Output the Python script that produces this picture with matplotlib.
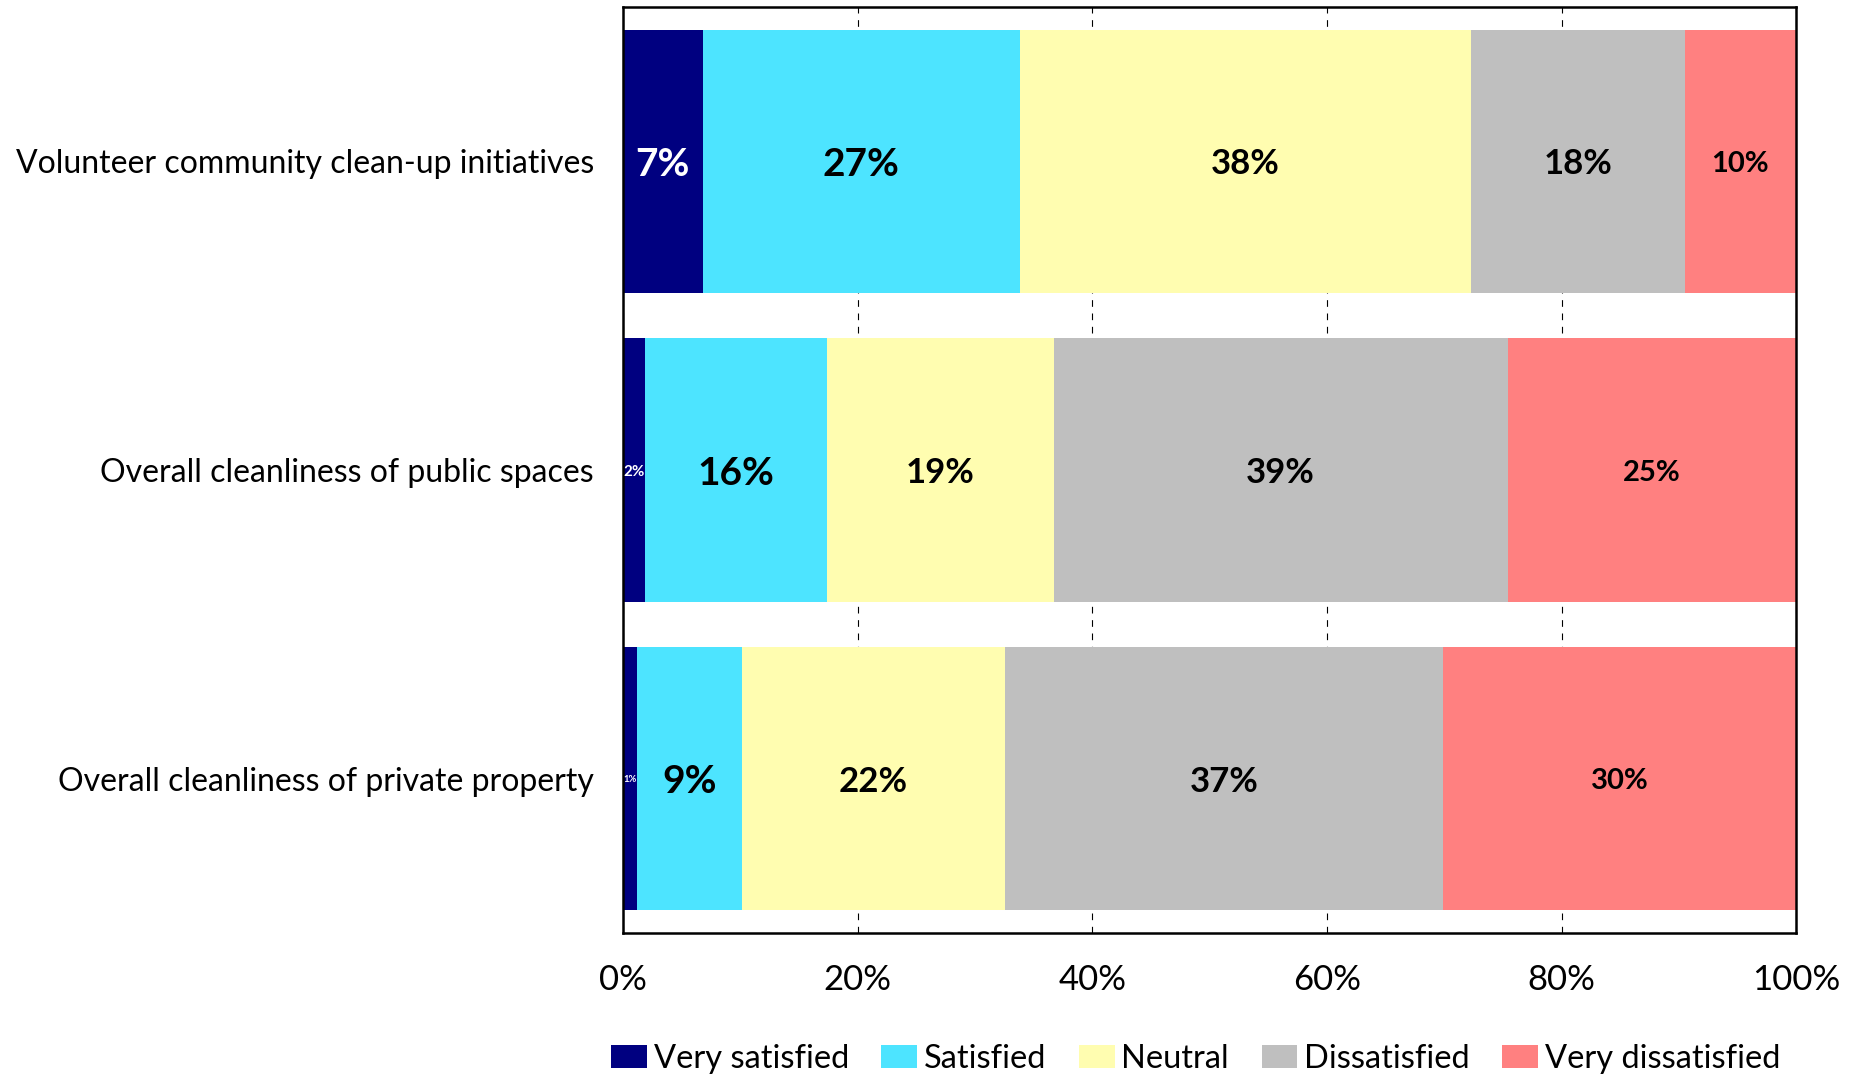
import matplotlib
matplotlib.use('Agg')
import matplotlib.pyplot as plt
import numpy as np

plt.rcParams['font.family'] = ['Lato', 'DejaVu Sans']

# survey results, share of respondents in percent
categories = ['Volunteer community clean-up initiatives',
              'Overall cleanliness of public spaces',
              'Overall cleanliness of private property']
series = ['Very satisfied', 'Satisfied', 'Neutral', 'Dissatisfied', 'Very dissatisfied']
very_satisfied = [6.8, 1.9, 1.2]
satisfied = [27.0, 15.5, 8.9]
neutral = [38.5, 19.3, 22.5]
dissatisfied = [18.2, 38.7, 37.3]
very_dissatisfied = [9.5, 24.6, 30.1]
values = [very_satisfied, satisfied, neutral, dissatisfied, very_dissatisfied]

colors = ['#000080', '#4DE4FF', '#FFFDB0', '#BFBFBF', '#FF8080']
label_colors = ['white', 'black', 'black', 'black', 'black']
label_sizes = [28, 28, 25, 25, 21]

fig = plt.figure(figsize=(18.71, 10.78), dpi=100)
ax = fig.add_axes([0.333, 0.1345, 0.627, 0.859])

y = np.arange(len(categories))
left = np.zeros(len(categories))
bars = []
for name, vals, col in zip(series, values, colors):
    b = ax.barh(y, vals, left=left, height=0.853, color=col, label=name, zorder=2)
    bars.append(b)
    left = left + np.array(vals)

ax.set_xlim(0, 100)
ax.set_ylim(len(categories) - 0.5, -0.5)
ax.set_yticks(y)
ax.set_yticklabels(categories, fontsize=23)
ax.set_xticks(np.arange(0, 101, 20))
ax.set_xticklabels([f'{v}%' for v in range(0, 101, 20)], fontsize=25)
ax.tick_params(axis='x', length=0, pad=22)
ax.tick_params(axis='y', length=0, pad=21)

ax.xaxis.grid(True, color='black', linewidth=0.8, linestyle=(0, (6, 6)))
ax.set_axisbelow(True)
for s in ax.spines.values():
    s.set_linewidth(1.8)
    s.set_color('black')
    s.set_zorder(5)

# data labels, shrunk when the segment is too narrow
fig.canvas.draw()
renderer = fig.canvas.get_renderer()
px_per_unit = ax.bbox.width / 100.0
for i, (vals, b) in enumerate(zip(values, bars)):
    for rect, v in zip(b.patches, vals):
        cx = rect.get_x() + rect.get_width() / 2
        cy = rect.get_y() + rect.get_height() / 2
        t = ax.text(cx, cy, f'{round(v):.0f}%', ha='center', va='center_baseline',
                    color=label_colors[i], fontsize=label_sizes[i],
                    fontweight='bold', zorder=6)
        w = t.get_window_extent(renderer).width
        seg = rect.get_width() * px_per_unit * 0.95
        if w > seg:
            t.set_fontsize(label_sizes[i] * seg / w)

fig.legend(loc='center', bbox_to_anchor=(0.639, 0.018), ncol=5, frameon=False,
           fontsize=23.5, handlelength=1.1, handleheight=0.72, handletextpad=0.2,
           columnspacing=1.0, borderpad=0)

fig.savefig('out.png', dpi=100)
